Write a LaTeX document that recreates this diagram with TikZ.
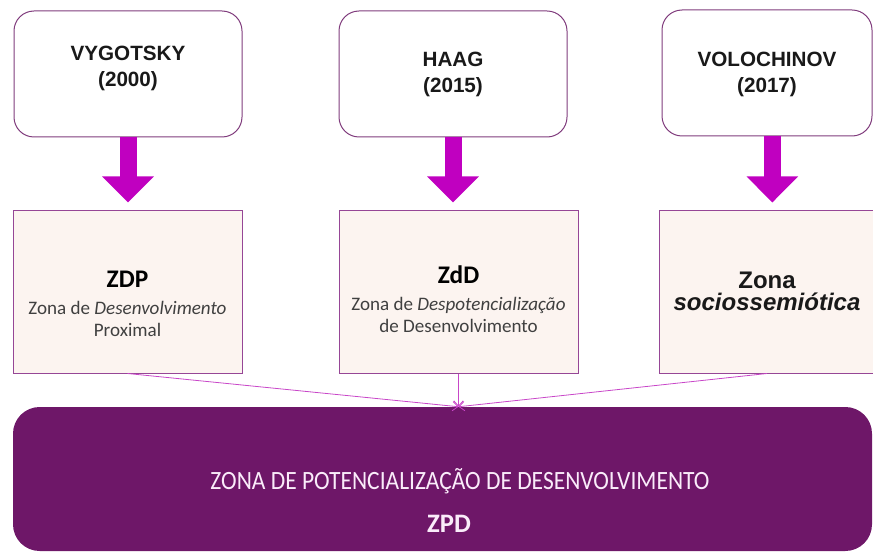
\documentclass[tikz,border=0pt]{standalone}
\usepackage{graphicx}
\usepackage{fontspec}
\setmainfont{Liberation Sans}
\newfontfamily\calibri{Carlito}
\usetikzlibrary{arrows.meta}
\definecolor{boxline}{RGB}{128,60,125}
\definecolor{midline}{RGB}{150,70,150}
\definecolor{midfill}{RGB}{252,244,240}
\definecolor{arrowfill}{RGB}{192,0,192}
\definecolor{linecol}{RGB}{200,70,200}
\definecolor{zpdfill}{RGB}{110,23,104}
\definecolor{zpdtext}{RGB}{250,236,250}
\begin{document}
\begin{tikzpicture}[x=0.75pt, y=-0.75pt,
		every node/.style={text=black, inner sep=0pt, align=center},
		topbox/.style={draw=boxline, line width=0.75pt, fill=white, rounded corners=15pt, minimum height=94.5pt},
		toptext/.style={font=\fontsize{15.5}{19.5}\selectfont\bfseries, text=black!90},
		midbox/.style={draw=midline, line width=0.75pt, fill=midfill, minimum height=121.5pt},
		midtext/.style={font=\calibri\fontsize{14.3}{16.5}\selectfont, text=black!75},
		soctext/.style={font={\fontsize{18}{17}\selectfont\bfseries}, text=black!90},
		blockarrow/.style={line width=12.75pt, draw=arrowfill, -{Triangle[width=37.5pt, length=19.5pt]}, shorten >=6pt},
		thinline/.style={draw=linecol, line width=0.6pt, -{Straight Barb[length=4pt, width=7pt]}}]
	\useasboundingbox (0,0) rectangle (873,552);
	\node[topbox, minimum width=171pt] (vyg) at (128,74) {};
	\node[toptext] (vygtxt) at (128,68.5) {VYGOTSKY\\(2000)};
	\node[topbox, minimum width=171pt] (haag) at (453,74) {};
	\node[toptext] (haagtxt) at (453,74) {HAAG\\(2015)};
	\node[topbox, minimum width=157.5pt] (volo) at (767,73) {};
	\node[toptext] (volotxt) at (767,74) {VOLOCHINOV\\(2017)};
	\node[midbox, minimum width=171.75pt] (zdp) at (127.5,292) {};
	\node[midtext] (zdptxt) at (127.5,304) {{\fontsize{19}{22}\selectfont\bfseries\color{black}ZDP}\\[4pt]Zona de \emph{Desenvolvimento}\\Proximal};
	\node[midbox, minimum width=179.25pt] (zdd) at (458.5,292) {};
	\node[midtext] (zddtxt) at (458.5,299.5) {{\fontsize{19}{22}\selectfont\bfseries\color{black}ZdD}\\[4pt]Zona de \emph{Despotencialização}\\de Desenvolvimento};
	\node[midbox, minimum width=162pt] (soc) at (767,292) {};
	\node[soctext] (soctxt) at (767,291.5) {Zona\\\emph{sociossemiótica}};
	\draw[blockarrow] (vyg.south) -- (vyg.south |- zdp.north);
	\draw[blockarrow] (haag.south) -- (haag.south |- zdd.north);
	\draw[blockarrow] ([xshift=4pt]volo.south) -- ([xshift=4pt]volo.south |- soc.north);
	\node[fill=zpdfill, rounded corners=20pt, minimum width=644.25pt, minimum height=108pt] (zpd) at (442.5,479) {};
	\node[font=\calibri\fontsize{19.8}{24}\selectfont, text=zpdtext, anchor=base] (zonatxt) at (460,489) {\scalebox{0.89}[1]{ZONA DE POTENCIALIZAÇÃO DE DESENVOLVIMENTO}};
	\node[font=\calibri\fontsize{20}{24}\selectfont\bfseries, text=zpdtext, anchor=base] (zpdtxt) at (449,532) {ZPD};
	\coordinate (meet) at (zdd.south |- zpd.north);
	\draw[thinline] (zdp.south) -- (meet);
	\draw[thinline] (zdd.south) -- (meet);
	\draw[thinline] (soc.south) -- (meet);
\end{tikzpicture}
\end{document}
